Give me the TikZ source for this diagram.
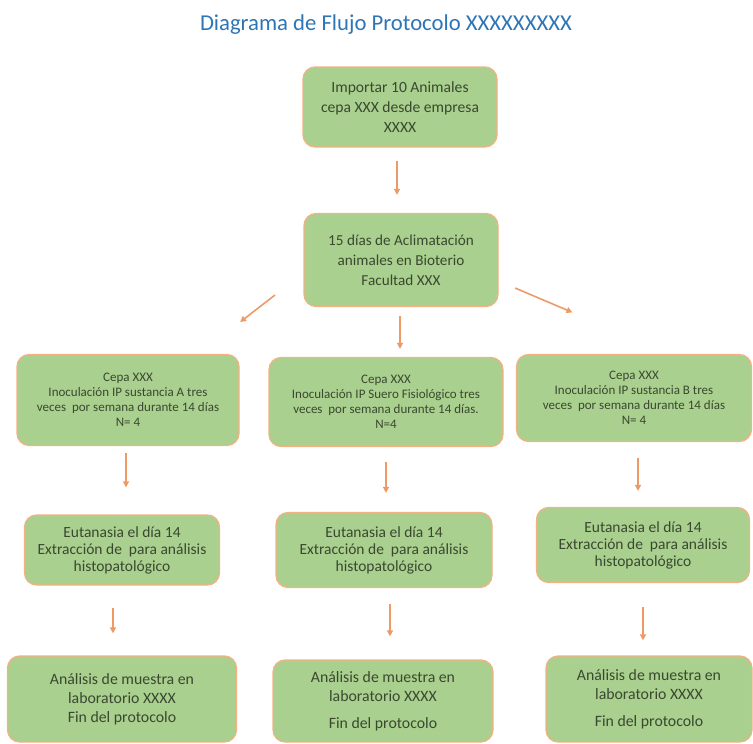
\documentclass[tikz,border=0pt]{standalone}
\usepackage{fontspec}
\setmainfont{Carlito}
\usetikzlibrary{arrows.meta}
\definecolor{verde}{HTML}{A9D08E}
\definecolor{borde}{HTML}{F4B183}
\definecolor{naranja}{HTML}{EE9A68}
\definecolor{azul}{HTML}{2E75B6}
\definecolor{texto}{HTML}{3A4830}
\begin{document}
\begin{tikzpicture}[x=1pt, y=-1pt,
  caja/.style={draw=borde, line width=1.2pt, fill=verde, rounded corners=12pt, text=texto, align=center, inner sep=0pt},
  flecha/.style={draw=naranja, line width=1.6pt, -{Triangle[length=6pt,width=6pt]}}]
\useasboundingbox (0,0) rectangle (753,744);
\node[text=azul, font=\fontsize{22.7}{26}\selectfont] (titulo) at (386,25) {Diagrama de Flujo Protocolo XXXXXXXXX};
\node[caja, minimum width=194, minimum height=80, font=\fontsize{15.6}{20}\selectfont] (paso0) at (400,107) {Importar 10 Animales\\cepa XXX desde empresa\\XXXX};
\node[caja, minimum width=194, minimum height=93, font=\fontsize{15.2}{20}\selectfont] (paso1) at (401,260) {15 días de Aclimatación\\animales en Bioterio\\Facultad XXX};
\draw[flecha, shorten <=13pt, shorten >=18pt] ([xshift=-3]paso0.south) -- ([xshift=-4]paso1.north);
\node[caja, minimum width=222, minimum height=91, font=\fontsize{13}{15}\selectfont] (cepaA) at (128,400) {Cepa XXX\\Inoculación IP sustancia A tres\\veces\ \ por semana durante 14 días\\N= 4};
\node[caja, minimum width=234, minimum height=89, font=\fontsize{13}{15}\selectfont] (cepaS) at (386,402) {Cepa XXX\\Inoculación IP Suero Fisiológico tres\\veces\ \ por semana durante 14 días.\\N=4};
\node[caja, minimum width=235, minimum height=87, font=\fontsize{13}{15}\selectfont] (cepaB) at (634,398) {Cepa XXX\\Inoculación IP sustancia B tres\\veces\ \ por semana durante 14 días\\N= 4};
\draw[flecha, shorten <=36pt, shorten >=52pt] ([yshift=-13]paso1.west) -- ([xshift=71]cepaA.north);
\draw[flecha, shorten <=9pt, shorten >=8pt] ([xshift=-1]paso1.south) -- ([xshift=14]cepaS.north);
\draw[flecha, shorten <=18pt, shorten >=106pt] ([yshift=-21]paso1.east) -- ([xshift=36]cepaB.north);
\node[caja, minimum width=195, minimum height=70, font=\fontsize{15.5}{17}\selectfont] (eutA) at (122,550) {Eutanasia el día 14\\Extracción de\ \ para análisis\\histopatológico};
\node[caja, minimum width=216, minimum height=75, font=\fontsize{15.5}{17}\selectfont] (eutS) at (384,550) {Eutanasia el día 14\\Extracción de\ \ para análisis\\histopatológico};
\node[caja, minimum width=213, minimum height=75, font=\fontsize{15.5}{17}\selectfont] (eutB) at (643,545) {Eutanasia el día 14\\Extracción de\ \ para análisis\\histopatológico};
\draw[flecha, shorten <=7pt, shorten >=27pt] ([xshift=-2]cepaA.south) -- ([xshift=4]eutA.north);
\draw[flecha, shorten <=15pt, shorten >=19pt] (cepaS.south) -- ([xshift=2]eutS.north);
\draw[flecha, shorten <=16pt, shorten >=16pt] ([xshift=4]cepaB.south) -- ([xshift=-5]eutB.north);
\node[caja, minimum width=229, minimum height=86, font=\fontsize{15.8}{19}\selectfont] (anaA) at (122,699) {Análisis de muestra en\\laboratorio XXXX\\Fin del protocolo};
\node[caja, minimum width=220, minimum height=82, font=\fontsize{15.8}{19}\selectfont] (anaS) at (383,701) {Análisis de muestra en\\laboratorio XXXX\\[8pt]Fin del protocolo};
\node[caja, minimum width=206, minimum height=86, font=\fontsize{15.8}{19}\selectfont] (anaB) at (649,699) {Análisis de muestra en\\laboratorio XXXX\\[8pt]Fin del protocolo};
\draw[flecha, shorten <=22pt, shorten >=22pt] ([xshift=-9]eutA.south) -- ([xshift=-9]anaA.north);
\draw[flecha, shorten <=16pt, shorten >=23pt] ([xshift=6]eutS.south) -- ([xshift=7]anaS.north);
\draw[flecha, shorten <=24pt, shorten >=15pt] (eutB.south) -- ([xshift=-6]anaB.north);
\end{tikzpicture}
\end{document}
